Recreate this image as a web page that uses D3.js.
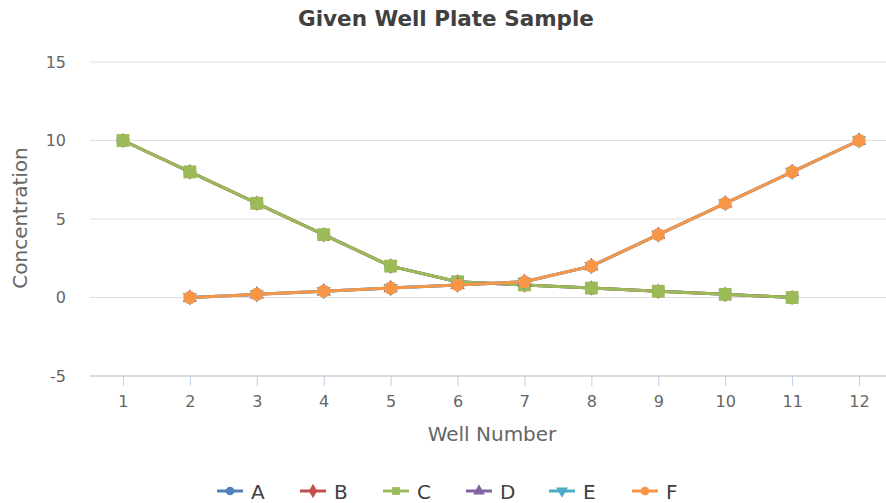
<!DOCTYPE html>
<html><head><meta charset="utf-8">
<script src="https://cdn.jsdelivr.net/npm/d3@7"></script>
<style>body{margin:0;background:#fff}svg{display:block}text{font-family:"DejaVu Sans",sans-serif}</style>
</head><body>
<svg id="c" width="886" height="503"></svg>
<script>
const wells = [1,2,3,4,5,6,7,8,9,10,11,12];
const seriesNames = ["A","B","C","D","E","F"];
const seriesColors = ["#4f81bd","#c0504d","#9bbb59","#8064a2","#4bacc6","#f79646"];
const seriesShapes = ["circle","diamond","square","triangle","triangleDown","circle"];
const decreasing = [10,8,6,4,2,1,0.8,0.6,0.4,0.2,0,null];
const increasing = [null,0,0.2,0.4,0.6,0.8,1,2,4,6,8,10];
const seriesValues = [decreasing, decreasing, decreasing, increasing, increasing, increasing];
const yTicks = [-5,0,5,10,15];

const svg = d3.select("#c");
const x = d3.scalePoint().domain(wells).range([89.5, 892.5]).padding(0.5);
const y = d3.scaleLinear().domain([-5,15]).range([376,62]);
const condensed = '"DejaVu Sans Condensed","DejaVu Sans",sans-serif';

// gridlines
svg.append("g").selectAll("line").data(yTicks).join("line")
  .attr("x1",90).attr("x2",886).attr("y1",d=>y(d)).attr("y2",d=>y(d))
  .attr("stroke",d=>d===-5?"#d0d0d0":"#e0e0e0").attr("stroke-width",d=>d===-5?1.5:1.2);

// y axis labels
const ya = svg.append("g").attr("transform","translate(66,0)")
  .call(d3.axisLeft(y).tickValues(yTicks).tickFormat(d=>String(d)).tickSize(0).tickPadding(0));
ya.select(".domain").remove();
ya.selectAll("text").attr("font-size",16).attr("fill","#666").attr("font-family",condensed);

// x axis
const xa = svg.append("g").attr("transform","translate(0,376)")
  .call(d3.axisBottom(x).tickSize(10).tickPadding(10));
xa.select(".domain").remove();
xa.selectAll(".tick line").attr("stroke","#bcd0e4").attr("stroke-width",1);
xa.selectAll("text").attr("font-size",16).attr("fill","#666").attr("font-family",condensed);

// titles
svg.append("text").attr("x",446).attr("y",26).attr("text-anchor","middle")
  .attr("font-size",21.5).attr("font-weight","bold").attr("fill","#404040")
  .text("Given Well Plate Sample");
svg.append("text").attr("x",492).attr("y",441).attr("text-anchor","middle")
  .attr("font-size",20).attr("fill","#666").text("Well Number");
svg.append("text").attr("transform","translate(27,218) rotate(-90)").attr("text-anchor","middle")
  .attr("font-size",20).attr("fill","#666").text("Concentration");

function shapePath(shape, size){
  const m = {circle:d3.symbolCircle, diamond:d3.symbolDiamond, square:d3.symbolSquare,
    triangle:d3.symbolTriangle, triangleDown:d3.symbolTriangle};
  return d3.symbol().type(m[shape]).size(size)();
}
const markerSize = {circle:135, diamond:70, square:165, triangle:90, triangleDown:90};

const line = d3.line().defined(d=>d.v!==null).x(d=>x(d.w)).y(d=>y(d.v));
seriesNames.forEach((name,i)=>{
  const data = wells.map((w,j)=>({w, v:seriesValues[i][j]}));
  const g = svg.append("g");
  g.append("path").datum(data).attr("d",line).attr("fill","none")
    .attr("stroke",seriesColors[i]).attr("stroke-width",3);
  g.selectAll("path.m").data(data.filter(d=>d.v!==null)).join("path").attr("class","m")
    .attr("d",shapePath(seriesShapes[i], markerSize[seriesShapes[i]]))
    .attr("transform",d=>`translate(${x(d.w)},${y(d.v)})${seriesShapes[i]==="triangleDown"?" rotate(180)":""}`)
    .attr("fill",seriesColors[i]);
});

// legend
const lg = svg.append("g");
seriesNames.forEach((name,i)=>{
  const cx = 230 + i*83;
  const g = lg.append("g").attr("transform",`translate(${cx},491)`);
  g.append("line").attr("x1",-13).attr("x2",13).attr("stroke",seriesColors[i]).attr("stroke-width",3);
  g.append("path").attr("d",shapePath(seriesShapes[i], 60))
    .attr("transform",seriesShapes[i]==="triangleDown"?"rotate(180)":null)
    .attr("fill",seriesColors[i]);
  g.append("text").attr("x",21).attr("y",7.5).attr("font-size",20).attr("fill","#404040").text(name);
});
</script>
</body></html>
